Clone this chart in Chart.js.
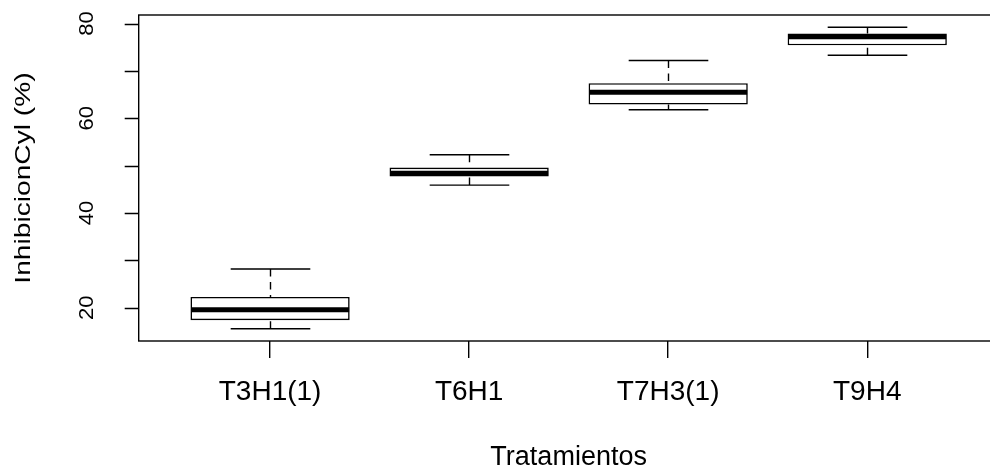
<!DOCTYPE html>
<html>
<head>
<meta charset="utf-8">
<script src="https://cdn.jsdelivr.net/npm/chart.js@4"></script>
<style>
html, body { margin: 0; padding: 0; background: #fff; overflow: hidden; }
#wrap { width: 1010px; height: 475px; }
</style>
</head>
<body>
<div id="wrap"><canvas id="boxChart" width="1010" height="475"></canvas></div>
<script>
// boxplot de inhibicion por tratamiento
const tratamientos = ["T3H1(1)", "T6H1", "T7H3(1)", "T9H4"];
const minimos  = [15.6, 45.9, 61.8, 73.3];
const cuartil1 = [17.4, 47.7, 62.9, 75.4];
const medianas = [19.6, 48.4, 65.5, 77.2];
const cuartil3 = [22.3, 49.6, 67.4, 77.9];
const maximos  = [28.2, 52.3, 72.2, 79.2];
const yTicks   = [20, 30, 40, 50, 60, 70, 80];
const yLabels  = [20, 40, 60, 80];
const tituloY = "InhibicionCyl (%)";
const tituloX = "Tratamientos";

Chart.defaults.font.family = '"Liberation Sans", Arial, sans-serif';
Chart.defaults.color = '#000';

// bigotes, topes y mediana encima de las cajas
const bigotes = {
    id: 'bigotes',
    afterDatasetsDraw(chart) {
        const ctx = chart.ctx;
        const xs = chart.scales.x;
        const ys = chart.scales.y;
        const meta = chart.getDatasetMeta(0);
        ctx.save();
        ctx.strokeStyle = '#000';
        tratamientos.forEach((t, i) => {
            const x = Math.round(xs.getPixelForValue(i + 1)) + 0.5;
            const half = meta.data[i].width / 2;
            const cap = half / 2;
            const yMin = ys.getPixelForValue(minimos[i]);
            const yMax = ys.getPixelForValue(maximos[i]);
            const yQ1 = ys.getPixelForValue(cuartil1[i]);
            const yQ3 = ys.getPixelForValue(cuartil3[i]);
            const yMed = ys.getPixelForValue(medianas[i]);

            ctx.lineWidth = 1.4;
            ctx.setLineDash([7.5, 5.5]);
            ctx.beginPath();
            ctx.moveTo(x, yMax); ctx.lineTo(x, yQ3);
            ctx.moveTo(x, yMin); ctx.lineTo(x, yQ1);
            ctx.stroke();

            ctx.setLineDash([]);
            ctx.beginPath();
            ctx.moveTo(x - cap, yMax); ctx.lineTo(x + cap, yMax);
            ctx.moveTo(x - cap, yMin); ctx.lineTo(x + cap, yMin);
            ctx.stroke();

            ctx.lineWidth = 4.8;
            ctx.beginPath();
            ctx.moveTo(x - half + 1, yMed); ctx.lineTo(x + half - 1, yMed);
            ctx.stroke();
        });
        ctx.restore();
    },
    afterDraw(chart) {
        const ctx = chart.ctx;
        const a = chart.chartArea;
        const ys = chart.scales.y;
        ctx.save();
        ctx.strokeStyle = '#000';
        ctx.fillStyle = '#000';
        ctx.lineWidth = 1.4;
        ctx.strokeRect(a.left, a.top, a.right - a.left, a.bottom - a.top);

        // marcas del eje y
        ctx.beginPath();
        yTicks.forEach(v => {
            const y = Math.round(ys.getPixelForValue(v)) + 0.5;
            ctx.moveTo(a.left - 14, y);
            ctx.lineTo(a.left, y);
        });
        ctx.stroke();

        // etiquetas del eje y, giradas como en R
        ctx.font = '20px "Liberation Sans", Arial, sans-serif';
        ctx.textAlign = 'center';
        ctx.textBaseline = 'alphabetic';
        yLabels.forEach(v => {
            const y = ys.getPixelForValue(v);
            ctx.save();
            ctx.translate(a.left - 46, y);
            ctx.rotate(-Math.PI / 2);
            ctx.scale(1.1, 1);
            ctx.fillText(String(v), 0, 0);
            ctx.restore();
        });

        // titulo del eje y
        ctx.save();
        ctx.font = '22px "Liberation Sans", Arial, sans-serif';
        ctx.translate(30, (a.top + a.bottom) / 2);
        ctx.rotate(-Math.PI / 2);
        ctx.scale(1.28, 1);
        ctx.fillText(tituloY, 0, 0);
        ctx.restore();
        ctx.restore();
    }
};

const ctx = document.getElementById('boxChart').getContext('2d');

const boxChart = new Chart(ctx, {
    type: 'bar',
    data: {
        datasets: [{
            label: 'Inhibicion',
            data: tratamientos.map((t, i) => ({ x: i + 1, y: [cuartil1[i], cuartil3[i]] })),
            backgroundColor: '#fff',
            borderColor: '#000',
            borderWidth: 1.6,
            borderSkipped: false,
            barPercentage: 0.8,
            categoryPercentage: 1.0
        }]
    },
    options: {
        responsive: false,
        animation: false,
        layout: {
            padding: { top: 15, right: 11.4, left: 0, bottom: 0 }
        },
        plugins: {
            legend: { display: false },
            tooltip: { enabled: false }
        },
        scales: {
            x: {
                type: 'linear',
                offset: false,
                min: 0.34,
                max: 4.66,
                afterBuildTicks: (scale) => {
                    scale.ticks = tratamientos.map((t, i) => ({ value: i + 1 }));
                },
                afterFit: (scale) => { scale.height = 134; },
                ticks: {
                    callback: (v) => tratamientos[Math.round(v) - 1],
                    font: { size: 28 },
                    color: '#000',
                    padding: 17,
                    maxRotation: 0,
                    autoSkip: false
                },
                grid: {
                    display: true,
                    offset: false,
                    drawOnChartArea: false,
                    drawTicks: true,
                    tickLength: 17,
                    color: '#000',
                    lineWidth: 1.4
                },
                border: { display: false },
                title: {
                    display: true,
                    text: tituloX,
                    font: { size: 27, lineHeight: 1 },
                    color: '#000',
                    padding: { top: 0, bottom: 4 }
                }
            },
            y: {
                type: 'linear',
                min: 13.0,
                max: 81.8,
                afterBuildTicks: (scale) => {
                    scale.ticks = yTicks.map(v => ({ value: v }));
                },
                afterFit: (scale) => { scale.width = 138.7; },
                ticks: { display: false },
                grid: { display: false },
                border: { display: false }
            }
        }
    },
    plugins: [bigotes]
});
</script>
</body>
</html>
